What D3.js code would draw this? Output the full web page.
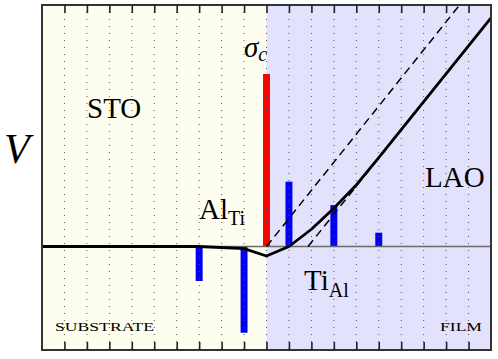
<!DOCTYPE html>
<html>
<head>
<meta charset="utf-8">
<script src="https://cdn.jsdelivr.net/npm/d3@7"></script>
<style>
  body { margin: 0; background: #fff; }
  text { font-family: "Liberation Serif", "DejaVu Serif", serif; fill: #000; }
</style>
</head>
<body>
<svg id="chart" width="498" height="359"></svg>
<script>
// layer positions (x in units of layers, interface at 10)
const xDomain = [0, 20];
const yDomain = [-0.6, 1.4];
const tickPositions = [1, 2, 3, 4, 5, 6, 7, 8, 9, 10, 11, 12, 13, 14, 15, 16, 17, 18, 19];
const interfaceX = 10;

// charge bars
const barX = [7, 9, 10, 11, 13, 15];
const barV = [-0.2, -0.5, 1.0, 0.376, 0.24, 0.08];
const barKind = ['defect', 'defect', 'sigma', 'defect', 'defect', 'defect'];

// electrostatic potential
const potX = [0, 7, 9, 10, 11, 12, 13, 14, 15, 20];
const potV = [0, 0, -0.012, -0.055, 0, 0.1, 0.222, 0.357, 0.515, 1.325];

// dashed reference lines (same slope)
const dash1X = [10, 18.6], dash1V = [0, 1.4];
const dash2X = [11.85, 20], dash2V = [0, 1.325];

const svg = d3.select('#chart');
const x = d3.scaleLinear().domain(xDomain).range([42, 491]);
const y = d3.scaleLinear().domain(yDomain).range([350, 5]);

// backgrounds
svg.append('rect')
  .attr('x', x(0)).attr('y', y(1.4))
  .attr('width', x(interfaceX) - x(0)).attr('height', y(-0.6) - y(1.4))
  .attr('fill', '#fefef0');
svg.append('rect')
  .attr('x', x(interfaceX)).attr('y', y(1.4))
  .attr('width', x(20) - x(interfaceX)).attr('height', y(-0.6) - y(1.4))
  .attr('fill', '#e2e2fc');

// bars
const bw = x(0.31) - x(0);
svg.append('g').selectAll('rect')
  .data(barX.map((v, i) => ({x: v, v: barV[i], kind: barKind[i]})))
  .join('rect')
  .attr('x', d => x(d.x) - bw / 2)
  .attr('y', d => y(Math.max(0, d.v)))
  .attr('width', bw)
  .attr('height', d => Math.abs(y(d.v) - y(0)))
  .attr('fill', d => d.kind == 'sigma' ? '#ff0000' : '#0000f4');

// dotted grid
svg.append('g').selectAll('line')
  .data(tickPositions)
  .join('line')
  .attr('x1', d => x(d)).attr('x2', d => x(d))
  .attr('y1', y(1.4)).attr('y2', y(-0.6))
  .attr('stroke', '#555')
  .attr('stroke-width', 1)
  .attr('stroke-dasharray', '1,6');

// zero line
svg.append('line')
  .attr('x1', x(0)).attr('x2', x(20))
  .attr('y1', y(0)).attr('y2', y(0))
  .attr('stroke', '#6a6a6a').attr('stroke-width', 1.5);

const line = d3.line().x(d => x(d[0])).y(d => y(d[1]));

// dashed lines
[[dash1X, dash1V], [dash2X, dash2V]].forEach(([xs, vs]) => {
  svg.append('path')
    .attr('d', line(xs.map((v, i) => [v, vs[i]])))
    .attr('fill', 'none')
    .attr('stroke', '#000')
    .attr('stroke-width', 1.5)
    .attr('stroke-dasharray', '8,5');
});

// potential
svg.append('path')
  .attr('d', line(potX.map((v, i) => [v, potV[i]])))
  .attr('fill', 'none')
  .attr('stroke', '#000')
  .attr('stroke-width', 2.8)
  .attr('stroke-linejoin', 'round');

// frame
svg.append('rect')
  .attr('x', x(0)).attr('y', y(1.4))
  .attr('width', x(20) - x(0)).attr('height', y(-0.6) - y(1.4))
  .attr('fill', 'none')
  .attr('stroke', '#333').attr('stroke-width', 2);

// inward ticks top and bottom
const axTop = d3.axisTop(x).tickValues(tickPositions).tickSize(-8).tickFormat('');
const axBot = d3.axisBottom(x).tickValues(tickPositions).tickSize(-8).tickFormat('');
const gt = svg.append('g').attr('transform', `translate(0,${y(1.4)})`).call(axTop);
const gb = svg.append('g').attr('transform', `translate(0,${y(-0.6)})`).call(axBot);
[gt, gb].forEach(g => {
  g.select('.domain').remove();
  g.selectAll('line').attr('stroke', '#222').attr('stroke-width', 1.6);
});

// labels
svg.append('text').attr('x', 4).attr('y', 163)
  .style('font-size', '42px').style('font-style', 'italic').text('V');

svg.append('text').attr('x', 87).attr('y', 118)
  .style('font-size', '29px').text('STO');

svg.append('text').attr('x', 425).attr('y', 187)
  .style('font-size', '29px').text('LAO');

const sig = svg.append('text').attr('x', 244).attr('y', 57)
  .style('font-size', '29px').style('font-style', 'italic');
sig.append('tspan').text('\u03c3');
sig.append('tspan').attr('dy', 4).style('font-size', '20px').text('c');

const al = svg.append('text').attr('x', 199).attr('y', 219).style('font-size', '29px');
al.append('tspan').text('Al');
al.append('tspan').attr('dy', 6).style('font-size', '20px').text('Ti');

const ti = svg.append('text').attr('x', 304).attr('y', 290).style('font-size', '29px');
ti.append('tspan').text('Ti');
ti.append('tspan').attr('dy', 7).style('font-size', '20px').text('Al');

svg.append('text').attr('x', 55).attr('y', 331)
  .style('font-size', '13px')
  .attr('textLength', 99).attr('lengthAdjust', 'spacingAndGlyphs')
  .text('SUBSTRATE');

svg.append('text').attr('x', 440).attr('y', 331)
  .style('font-size', '13px')
  .attr('textLength', 42).attr('lengthAdjust', 'spacingAndGlyphs')
  .text('FILM');
</script>
</body>
</html>
